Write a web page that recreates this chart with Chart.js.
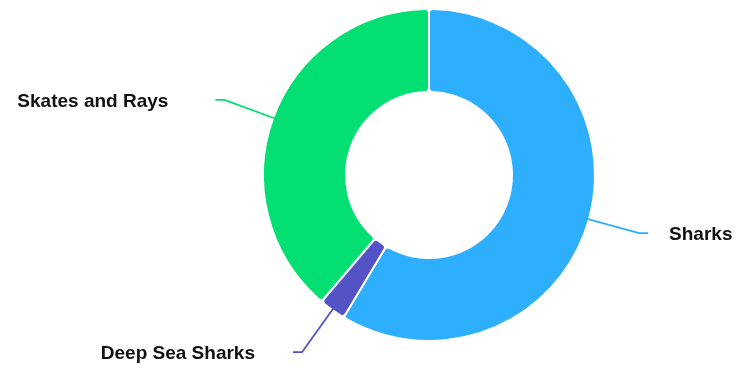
<!DOCTYPE html>
<html>
<head>
<meta charset="utf-8">
<script src="https://cdn.jsdelivr.net/npm/chart.js@4.4.1/dist/chart.umd.min.js"></script>
<style>
  html, body { margin: 0; padding: 0; background: #ffffff; }
  #wrap { width: 744px; height: 375px; position: relative; }
</style>
</head>
<body>
<div id="wrap"><canvas id="c"></canvas></div>
<script>
const categories = ["Sharks", "Deep Sea Sharks", "Skates and Rays"];
const seriesValues = [58.6, 2.6, 38.8];
const sliceColors = ["#2DAFFE", "#5453C6", "#04DF74"];

const leaderPlugin = {
  id: 'leaders',
  afterDatasetsDraw(chart, args, opts) {
    const ctx = chart.ctx;
    const meta = chart.getDatasetMeta(0);
    meta.data.forEach((arc, i) => {
      const p = arc.getProps(['x', 'y', 'startAngle', 'endAngle', 'outerRadius'], true);
      const mid = (p.startAngle + p.endAngle) / 2;
      const c = Math.cos(mid), s = Math.sin(mid);
      const r0 = p.outerRadius - 2, r1 = p.outerRadius + opts.radial;
      const x0 = p.x + c * r0, y0 = p.y + s * r0;
      const x1 = p.x + c * r1, y1 = p.y + s * r1;
      const dir = c >= 0 ? 1 : -1;
      const x2 = x1 + dir * opts.horiz;
      ctx.save();
      ctx.strokeStyle = sliceColors[i];
      ctx.lineWidth = 1.8;
      ctx.lineJoin = 'round';
      ctx.beginPath();
      ctx.moveTo(x0, y0);
      ctx.lineTo(x1, y1);
      ctx.lineTo(x2, y1);
      ctx.stroke();
      ctx.fillStyle = '#111111';
      ctx.font = 'bold 19px "Liberation Sans", Arial, sans-serif';
      ctx.textBaseline = 'middle';
      ctx.textAlign = dir > 0 ? 'left' : 'right';
      ctx.fillText(categories[i], x2 + dir * opts.gaps[i], y1 + 2);
      ctx.restore();
    });
  }
};

new Chart(document.getElementById('c'), {
  type: 'doughnut',
  data: {
    labels: categories,
    datasets: [{
      data: seriesValues,
      backgroundColor: sliceColors,
      borderColor: '#ffffff',
      borderWidth: 2,
      borderRadius: 4,
      hoverOffset: 0
    }]
  },
  options: {
    responsive: true,
    maintainAspectRatio: false,
    animation: false,
    cutout: '50%',
    layout: { padding: { left: 114, right: 0, top: 8, bottom: 33 } },
    plugins: {
      legend: { display: false },
      tooltip: { enabled: false },
      leaders: { radial: 52, horiz: 9, gaps: [21, 38, 47] }
    }
  },
  plugins: [leaderPlugin]
});
</script>
</body>
</html>
